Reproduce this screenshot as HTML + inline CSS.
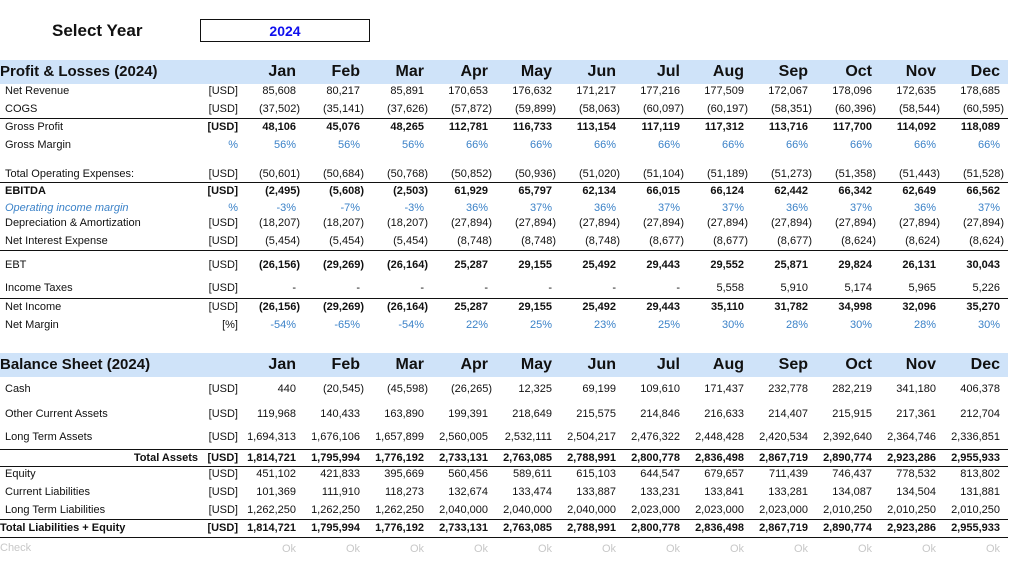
<!DOCTYPE html>
<html><head><meta charset="utf-8"><style>
body{margin:0;width:1019px;height:569px;background:#fff;position:relative;overflow:hidden;font-family:"Liberation Sans","DejaVu Sans",sans-serif;color:#111;font-size:11px}
.r{position:absolute;left:0;width:1008px;display:grid;grid-template-columns:200px 38px repeat(12,64px);align-items:center;height:16px;line-height:16px}
.r>span{text-align:right;padding-right:6px;white-space:nowrap}
.r>span:first-child{text-align:left;padding-left:5px;padding-right:0}
.r>span:nth-child(2){padding-right:0}
.r u{text-decoration:none;margin-right:-4px}
.b{font-weight:bold}
.bl{color:#3b82c8}
.hd{background:#cfe3f9;height:24px;line-height:24px;font-size:16px;font-weight:bold}
.hd>span:first-child{padding-left:0;font-size:15px}
.hd>span{padding-right:6px}
.ln{position:absolute;left:0;width:1008px;height:0;border-top:1.5px solid #111}
.g{color:#c8c8c8}
</style></head><body>
<div style="position:absolute;left:52px;top:21px;font-size:17px;font-weight:bold">Select Year</div>
<div style="position:absolute;left:200px;top:19px;width:168px;height:21px;border:1px solid #111;text-align:center;line-height:23px;font-size:14px;font-weight:bold;color:#1010ee">2024</div>

<div class="r hd" style="top:60px"><span>Profit &amp; Losses (2024)</span><span></span><span>Jan</span><span>Feb</span><span>Mar</span><span>Apr</span><span>May</span><span>Jun</span><span>Jul</span><span>Aug</span><span>Sep</span><span>Oct</span><span>Nov</span><span>Dec</span></div>
<div class="r" style="top:83px"><span>Net Revenue</span><span>[USD]</span><span>85,608</span><span>80,217</span><span>85,891</span><span>170,653</span><span>176,632</span><span>171,217</span><span>177,216</span><span>177,509</span><span>172,067</span><span>178,096</span><span>172,635</span><span>178,685</span></div>
<div class="r" style="top:101px"><span>COGS</span><span>[USD]</span><span><u>(37,502)</u></span><span><u>(35,141)</u></span><span><u>(37,626)</u></span><span><u>(57,872)</u></span><span><u>(59,899)</u></span><span><u>(58,063)</u></span><span><u>(60,097)</u></span><span><u>(60,197)</u></span><span><u>(58,351)</u></span><span><u>(60,396)</u></span><span><u>(58,544)</u></span><span><u>(60,595)</u></span></div>
<div class="ln" style="top:118px"></div>
<div class="r b" style="top:119px"><span style="font-weight:normal">Gross Profit</span><span>[USD]</span><span>48,106</span><span>45,076</span><span>48,265</span><span>112,781</span><span>116,733</span><span>113,154</span><span>117,119</span><span>117,312</span><span>113,716</span><span>117,700</span><span>114,092</span><span>118,089</span></div>
<div class="r bl" style="top:137px"><span style="color:#111">Gross Margin</span><span>%</span><span>56%</span><span>56%</span><span>56%</span><span>66%</span><span>66%</span><span>66%</span><span>66%</span><span>66%</span><span>66%</span><span>66%</span><span>66%</span><span>66%</span></div>
<div class="r" style="top:166px"><span>Total Operating Expenses:</span><span>[USD]</span><span><u>(50,601)</u></span><span><u>(50,684)</u></span><span><u>(50,768)</u></span><span><u>(50,852)</u></span><span><u>(50,936)</u></span><span><u>(51,020)</u></span><span><u>(51,104)</u></span><span><u>(51,189)</u></span><span><u>(51,273)</u></span><span><u>(51,358)</u></span><span><u>(51,443)</u></span><span><u>(51,528)</u></span></div>
<div class="ln" style="top:182px"></div>
<div class="r b" style="top:183px"><span>EBITDA</span><span>[USD]</span><span><u>(2,495)</u></span><span><u>(5,608)</u></span><span><u>(2,503)</u></span><span>61,929</span><span>65,797</span><span>62,134</span><span>66,015</span><span>66,124</span><span>62,442</span><span>66,342</span><span>62,649</span><span>66,562</span></div>
<div class="r bl" style="top:200px"><span style="font-style:italic">Operating income margin</span><span>%</span><span>-3%</span><span>-7%</span><span>-3%</span><span>36%</span><span>37%</span><span>36%</span><span>37%</span><span>37%</span><span>36%</span><span>37%</span><span>36%</span><span>37%</span></div>
<div class="r" style="top:215px"><span>Depreciation &amp; Amortization</span><span>[USD]</span><span><u>(18,207)</u></span><span><u>(18,207)</u></span><span><u>(18,207)</u></span><span><u>(27,894)</u></span><span><u>(27,894)</u></span><span><u>(27,894)</u></span><span><u>(27,894)</u></span><span><u>(27,894)</u></span><span><u>(27,894)</u></span><span><u>(27,894)</u></span><span><u>(27,894)</u></span><span><u>(27,894)</u></span></div>
<div class="r" style="top:233px"><span>Net Interest Expense</span><span>[USD]</span><span><u>(5,454)</u></span><span><u>(5,454)</u></span><span><u>(5,454)</u></span><span><u>(8,748)</u></span><span><u>(8,748)</u></span><span><u>(8,748)</u></span><span><u>(8,677)</u></span><span><u>(8,677)</u></span><span><u>(8,677)</u></span><span><u>(8,624)</u></span><span><u>(8,624)</u></span><span><u>(8,624)</u></span></div>
<div class="ln" style="top:250px"></div>
<div class="r b" style="top:257px"><span style="font-weight:normal">EBT</span><span style="font-weight:normal">[USD]</span><span><u>(26,156)</u></span><span><u>(29,269)</u></span><span><u>(26,164)</u></span><span>25,287</span><span>29,155</span><span>25,492</span><span>29,443</span><span>29,552</span><span>25,871</span><span>29,824</span><span>26,131</span><span>30,043</span></div>
<div class="r" style="top:280px"><span>Income Taxes</span><span>[USD]</span><span>-</span><span>-</span><span>-</span><span>-</span><span>-</span><span>-</span><span>-</span><span>5,558</span><span>5,910</span><span>5,174</span><span>5,965</span><span>5,226</span></div>
<div class="ln" style="top:298px"></div>
<div class="r b" style="top:299px"><span style="font-weight:normal">Net Income</span><span style="font-weight:normal">[USD]</span><span><u>(26,156)</u></span><span><u>(29,269)</u></span><span><u>(26,164)</u></span><span>25,287</span><span>29,155</span><span>25,492</span><span>29,443</span><span>35,110</span><span>31,782</span><span>34,998</span><span>32,096</span><span>35,270</span></div>
<div class="r bl" style="top:317px"><span style="color:#111">Net Margin</span><span style="color:#111">[%]</span><span>-54%</span><span>-65%</span><span>-54%</span><span>22%</span><span>25%</span><span>23%</span><span>25%</span><span>30%</span><span>28%</span><span>30%</span><span>28%</span><span>30%</span></div>

<div class="r hd" style="top:353px"><span>Balance Sheet (2024)</span><span></span><span>Jan</span><span>Feb</span><span>Mar</span><span>Apr</span><span>May</span><span>Jun</span><span>Jul</span><span>Aug</span><span>Sep</span><span>Oct</span><span>Nov</span><span>Dec</span></div>
<div class="r" style="top:381px"><span>Cash</span><span>[USD]</span><span>440</span><span><u>(20,545)</u></span><span><u>(45,598)</u></span><span><u>(26,265)</u></span><span>12,325</span><span>69,199</span><span>109,610</span><span>171,437</span><span>232,778</span><span>282,219</span><span>341,180</span><span>406,378</span></div>
<div class="r" style="top:406px"><span>Other Current Assets</span><span>[USD]</span><span>119,968</span><span>140,433</span><span>163,890</span><span>199,391</span><span>218,649</span><span>215,575</span><span>214,846</span><span>216,633</span><span>214,407</span><span>215,915</span><span>217,361</span><span>212,704</span></div>
<div class="r" style="top:429px"><span>Long Term Assets</span><span>[USD]</span><span>1,694,313</span><span>1,676,106</span><span>1,657,899</span><span>2,560,005</span><span>2,532,111</span><span>2,504,217</span><span>2,476,322</span><span>2,448,428</span><span>2,420,534</span><span>2,392,640</span><span>2,364,746</span><span>2,336,851</span></div>
<div class="ln" style="top:449px"></div>
<div class="r b" style="top:450px"><span style="text-align:right;padding-right:2px">Total Assets</span><span>[USD]</span><span>1,814,721</span><span>1,795,994</span><span>1,776,192</span><span>2,733,131</span><span>2,763,085</span><span>2,788,991</span><span>2,800,778</span><span>2,836,498</span><span>2,867,719</span><span>2,890,774</span><span>2,923,286</span><span>2,955,933</span></div>
<div class="ln" style="top:466px"></div>
<div class="r" style="top:466px"><span>Equity</span><span>[USD]</span><span>451,102</span><span>421,833</span><span>395,669</span><span>560,456</span><span>589,611</span><span>615,103</span><span>644,547</span><span>679,657</span><span>711,439</span><span>746,437</span><span>778,532</span><span>813,802</span></div>
<div class="r" style="top:484px"><span>Current Liabilities</span><span>[USD]</span><span>101,369</span><span>111,910</span><span>118,273</span><span>132,674</span><span>133,474</span><span>133,887</span><span>133,231</span><span>133,841</span><span>133,281</span><span>134,087</span><span>134,504</span><span>131,881</span></div>
<div class="r" style="top:502px"><span>Long Term Liabilities</span><span>[USD]</span><span>1,262,250</span><span>1,262,250</span><span>1,262,250</span><span>2,040,000</span><span>2,040,000</span><span>2,040,000</span><span>2,023,000</span><span>2,023,000</span><span>2,023,000</span><span>2,010,250</span><span>2,010,250</span><span>2,010,250</span></div>
<div class="ln" style="top:519px"></div>
<div class="r b" style="top:520px"><span style="padding-left:0">Total Liabilities + Equity</span><span>[USD]</span><span>1,814,721</span><span>1,795,994</span><span>1,776,192</span><span>2,733,131</span><span>2,763,085</span><span>2,788,991</span><span>2,800,778</span><span>2,836,498</span><span>2,867,719</span><span>2,890,774</span><span>2,923,286</span><span>2,955,933</span></div>
<div class="ln" style="top:537px"></div>
<div class="r g" style="top:538px"><span style="padding-left:0">Check</span><span></span><span style="padding-top:3px">Ok</span><span style="padding-top:3px">Ok</span><span style="padding-top:3px">Ok</span><span style="padding-top:3px">Ok</span><span style="padding-top:3px">Ok</span><span style="padding-top:3px">Ok</span><span style="padding-top:3px">Ok</span><span style="padding-top:3px">Ok</span><span style="padding-top:3px">Ok</span><span style="padding-top:3px">Ok</span><span style="padding-top:3px">Ok</span><span style="padding-top:3px">Ok</span></div>
</body></html>
